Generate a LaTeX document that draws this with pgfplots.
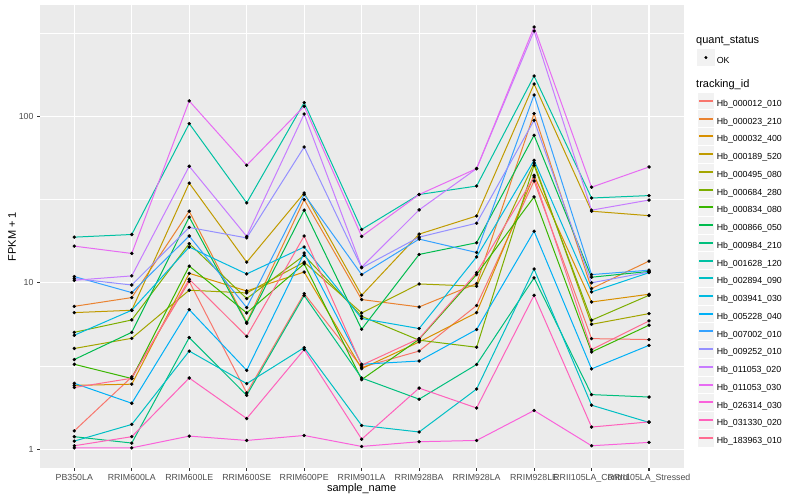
\documentclass[border=0pt]{standalone}
\usepackage{fontspec}
\setmainfont{Liberation Sans}
\usepackage{pgfplots}
\usepackage{pgfplotstable}
\pgfplotsset{compat=1.18}
\definecolor{s1}{HTML}{F8766D}
\definecolor{s2}{HTML}{EA8331}
\definecolor{s3}{HTML}{D89000}
\definecolor{s4}{HTML}{C09B00}
\definecolor{s5}{HTML}{A3A500}
\definecolor{s6}{HTML}{7CAE00}
\definecolor{s7}{HTML}{39B600}
\definecolor{s8}{HTML}{00BB4E}
\definecolor{s9}{HTML}{00BF7D}
\definecolor{s10}{HTML}{00C1A3}
\definecolor{s11}{HTML}{00BFC4}
\definecolor{s12}{HTML}{00BAE0}
\definecolor{s13}{HTML}{00B0F6}
\definecolor{s14}{HTML}{35A2FF}
\definecolor{s15}{HTML}{9590FF}
\definecolor{s16}{HTML}{C77CFF}
\definecolor{s17}{HTML}{E76BF3}
\definecolor{s18}{HTML}{FA62DB}
\definecolor{s19}{HTML}{FF62BC}
\definecolor{s20}{HTML}{FF6C91}
\definecolor{gray92}{HTML}{EBEBEB}
\definecolor{gray95}{HTML}{F2F2F2}
\definecolor{gray30}{HTML}{4D4D4D}
\definecolor{gray20}{HTML}{333333}
\pgfplotstableread{
x s1 s2 s3 s4 s5 s6 s7 s8 s9 s10 s11 s12 s13 s14 s15 s16 s17 s18 s19 s20
0 1.29 7.22 2.42 6.62 4.03 5.04 3.24 3.46 1.19 18.8 1.12 4.84 2.49 10.9 10.6 10.35 16.6 1.02 1.05 2.35
1 2.72 8.15 2.46 6.84 4.64 5.98 2.66 5.04 1.09 19.5 1.41 6.84 1.89 8.73 9.70 11.0 15.0 1.02 1.19 2.67
2 10.2 26.9 11.4 39.7 9.02 17.2 12.6 24.8 4.69 90.4 3.89 16.4 6.90 19.1 21.5 50.1 123.6 1.20 2.68 10.5
3 2.18 5.79 8.93 13.3 8.69 8.04 6.59 5.71 2.11 30.2 2.48 11.3 2.98 7.10 18.6 19.0 50.8 1.13 1.53 4.77
4 8.61 31.6 11.6 34.6 13.3 14.6 13.0 27.3 8.38 120.8 4.08 16.4 15.1 33.9 65.4 103.2 114.8 1.21 3.97 19.1
5 3.11 7.93 3.05 8.41 6.59 6.29 2.62 5.26 2.68 20.9 1.39 6.10 3.24 11.2 12.3 12.4 19.0 1.04 1.15 3.20
6 3.89 7.16 4.41 19.6 9.84 4.52 4.58 14.8 2.00 33.9 1.27 5.31 3.39 18.3 18.8 27.4 33.9 1.11 2.33 4.62
7 7.30 9.89 6.62 25.2 9.53 4.10 11.2 17.4 3.23 38.1 2.30 14.3 5.24 15.2 22.8 48.5 48.5 1.13 1.77 11.5
8 40.9 103.8 44.2 156.3 52.4 50.8 32.8 76.9 10.7 174.6 12.1 54.4 20.4 134.3 94.6 325.3 343.7 1.71 8.41 43.2
9 4.62 9.23 7.67 26.9 5.63 5.96 3.84 10.8 2.13 32.3 1.84 8.81 3.04 11.2 10.0 27.3 37.5 1.05 1.36 3.97
10 4.56 13.5 8.53 25.3 6.53 8.41 5.56 11.7 2.06 33.4 1.45 11.5 4.21 11.9 11.6 31.4 49.6 1.10 1.46 5.90
}\data
\begin{document}
\begin{tikzpicture}
\fill[white] (-39.8pt,-32pt) rectangle (760.2pt,468pt);
\begin{axis}[
 at={(0pt,0pt)}, anchor=south west, scale only axis,
 width=643.7pt, height=463pt,
 xmin=-0.6, xmax=10.6, ymode=log, ymin=0.772, ymax=466,
 axis background/.style={fill=gray92},
 axis line style={draw=none},
 xtick={0,...,10},
 xticklabels={PB350LA,RRIM600LA,RRIM600LE,RRIM600SE,RRIM600PE,RRIM901LA,RRIM928BA,RRIM928LA,RRIM928LE,RRII105LA\_Control,RRII105LA\_Stressed},
 ytick={1,10,100}, yticklabels={1,10,100},
 minor ytick={3.1623,31.623,316.23},
 xmajorgrids, ymajorgrids, yminorgrids,
 major grid style={white, line width=1.07pt},
 minor grid style={white, line width=0.53pt},
 tick align=outside, major tick length=2.75pt, minor tick length=0pt,
 xtick pos=bottom, ytick pos=left,
 major tick style={gray20, line width=1.07pt},
 tick label style={font=\fontsize{8.8}{10}\selectfont, text=gray30},
 /pgf/number format/assume math mode=true,
 xlabel={sample\_name}, ylabel={FPKM + 1},
 label style={font=\fontsize{11}{13}\selectfont},
 xlabel style={at={(axis description cs:0.5,-0.0454)}, anchor=center},
 ylabel style={at={(axis description cs:-0.0432,0.5)}, anchor=center},
 legend style={at={(axis description cs:1.0214,0.8121)}, anchor=north west, draw=none, fill=none, inner sep=0pt, outer sep=0pt, row sep=0pt, column sep=2.2pt, font=\fontsize{8.8}{10}\selectfont, nodes={inner sep=0pt}, cells={anchor=west}},
]
\pgfplotsinvokeforeach{1,...,20}{
 \addlegendimage{legend image code/.code={
   \path[fill=gray95, draw=none] (0pt,-5.72pt) rectangle (17.28pt,12.02pt);
   \path[draw=white, fill=none, line width=0.5pt, overlay] (0pt,-5.72pt) rectangle (17.28pt,12.02pt);
   \path[fill=s#1, draw=none] (1.7pt,2.15pt) rectangle (15.6pt,4.15pt);
 }}
}
\legend{Hb\_000012\_010,Hb\_000023\_210,Hb\_000032\_400,Hb\_000189\_520,Hb\_000495\_080,Hb\_000684\_280,Hb\_000834\_080,Hb\_000866\_050,Hb\_000984\_210,Hb\_001628\_120,Hb\_002894\_090,Hb\_003941\_030,Hb\_005228\_040,Hb\_007002\_010,Hb\_009252\_010,Hb\_011053\_020,Hb\_011053\_030,Hb\_026314\_030,Hb\_031330\_020,Hb\_183963\_010}
\pgfplotsinvokeforeach{1,...,20}{
 \addplot[draw=s#1, line width=1pt, mark=none, forget plot] table[x=x, y=s#1] {\data};
}
\pgfplotsinvokeforeach{1,...,20}{
 \addplot[only marks, mark=*, mark size=1.5pt, black, forget plot] table[x=x, y=s#1] {\data};
}
\end{axis}
\begin{axis}[
 at={(0pt,0pt)}, anchor=south west, scale only axis,
 width=643.7pt, height=463pt, hide axis,
 xmin=0, xmax=1, ymin=0, ymax=1,
 legend style={at={(axis description cs:1.0214,0.9056)}, anchor=north west, draw=none, fill=none, inner sep=0pt, outer sep=0pt, column sep=2.2pt, font=\fontsize{8.8}{10}\selectfont, nodes={inner sep=0pt}, cells={anchor=west}},
 legend image code/.code={
   \path[fill=gray95, draw=none] (0pt,-5.72pt) rectangle (17.28pt,12.02pt);
   \draw[#1] plot coordinates {(8.64pt,3.15pt)};
 },
]
\addlegendimage{only marks, mark=*, mark size=1.3pt, black}
\addlegendentry{OK}
\end{axis}
\node[anchor=west, font=\fontsize{11}{13}\selectfont, inner sep=0pt] at (656.2pt,427.3pt) {quant\_status};
\node[anchor=west, font=\fontsize{11}{13}\selectfont, inner sep=0pt] at (656.2pt,383.7pt) {tracking\_id};
\pgfresetboundingbox
\useasboundingbox (-39.8pt,-32pt) rectangle (760.2pt,468pt);
\end{tikzpicture}
\end{document}
